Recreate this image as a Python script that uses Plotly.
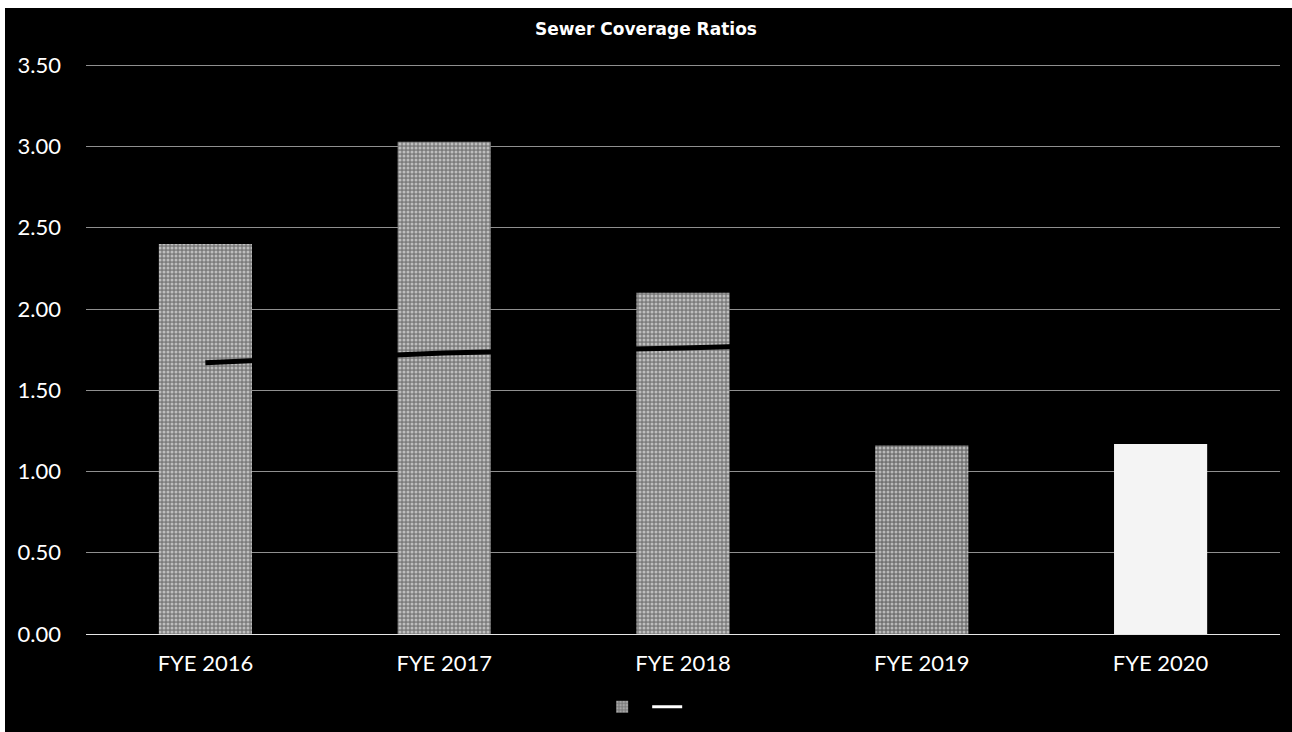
import plotly.graph_objects as go

# Sewer coverage ratios by fiscal year
years = ["FYE 2016", "FYE 2017", "FYE 2018", "FYE 2019", "FYE 2020"]
coverage = [2.40, 3.03, 2.10, 1.16, 1.17]
requirement = [1.67, 1.73, 1.76, 1.80, 1.82]
y_ticks = [0.0, 0.5, 1.0, 1.5, 2.0, 2.5, 3.0, 3.5]
y_tick_text = ["0.00", "0.50", "1.00", "1.50", "2.00", "2.50", "3.00", "3.50"]

FONT = "Lato, 'Open Sans', sans-serif"
TITLE_FONT = "'DejaVu Sans', Lato, sans-serif"

bar_colors = ["#7c7c7c", "#7c7c7c", "#7c7c7c", "#727272", "#f4f4f4"]
bar_fg = ["#d2d2d2", "#d2d2d2", "#d2d2d2", "#c6c6c6", "#f4f4f4"]
bar_pattern = [".", ".", ".", ".", ""]

fig = go.Figure()

fig.add_trace(go.Bar(
    x=years,
    y=coverage,
    width=0.39,
    marker=dict(
        color=bar_colors,
        line=dict(width=0),
        pattern=dict(shape=bar_pattern, fgcolor=bar_fg, size=4, solidity=0.45,
                     fillmode="overlay"),
    ),
    showlegend=True,
    name="",
))

fig.add_trace(go.Scatter(
    x=years,
    y=requirement,
    mode="lines",
    line=dict(color="#000000", width=5),
    showlegend=False,
    name="",
))

# legend entry for the requirement line
fig.add_trace(go.Scatter(
    x=[None], y=[None],
    mode="lines",
    line=dict(color="#ffffff", width=3),
    showlegend=True,
    name="",
))

fig.update_layout(
    width=1292,
    height=732,
    paper_bgcolor="#ffffff",
    plot_bgcolor="#000000",
    margin=dict(l=86, r=12, t=62, b=97),
    font=dict(family=FONT, color="#ffffff"),
    title=dict(
        text="<b>Sewer Coverage Ratios</b>",
        x=0.5, xanchor="center",
        y=1 - 29 / 732, yanchor="middle",
        font=dict(family=TITLE_FONT, size=17, color="#ffffff"),
    ),
    bargap=0.6,
    legend=dict(
        orientation="h",
        x=0.47, xanchor="center",
        y=-0.125, yanchor="middle",
        font=dict(size=1, color="#000000"),
        itemwidth=30,
        bgcolor="rgba(0,0,0,0)",
    ),
    xaxis=dict(
        showgrid=False,
        showline=False,
        ticks="",
        tickfont=dict(family=FONT, size=22, color="#ffffff"),
        ticklabelstandoff=14,
    ),
    yaxis=dict(
        range=[0, 3.52],
        tickvals=y_ticks,
        ticktext=y_tick_text,
        tickfont=dict(family=FONT, size=22, color="#ffffff"),
        gridcolor="#8f8f8f",
        gridwidth=1,
        zeroline=True,
        zerolinecolor="#e6e6e6",
        zerolinewidth=1,
        ticklabelstandoff=24,
    ),
    shapes=[
        # dark page background behind the whole chart
        dict(type="rect", xref="paper", yref="paper",
             x0=(5 - 86) / 1194, x1=1.02, y0=-0.2, y1=(635 - 8) / 573,
             fillcolor="#000000", line=dict(width=0), layer="below"),
    ],
)

fig.write_html("out.html")
